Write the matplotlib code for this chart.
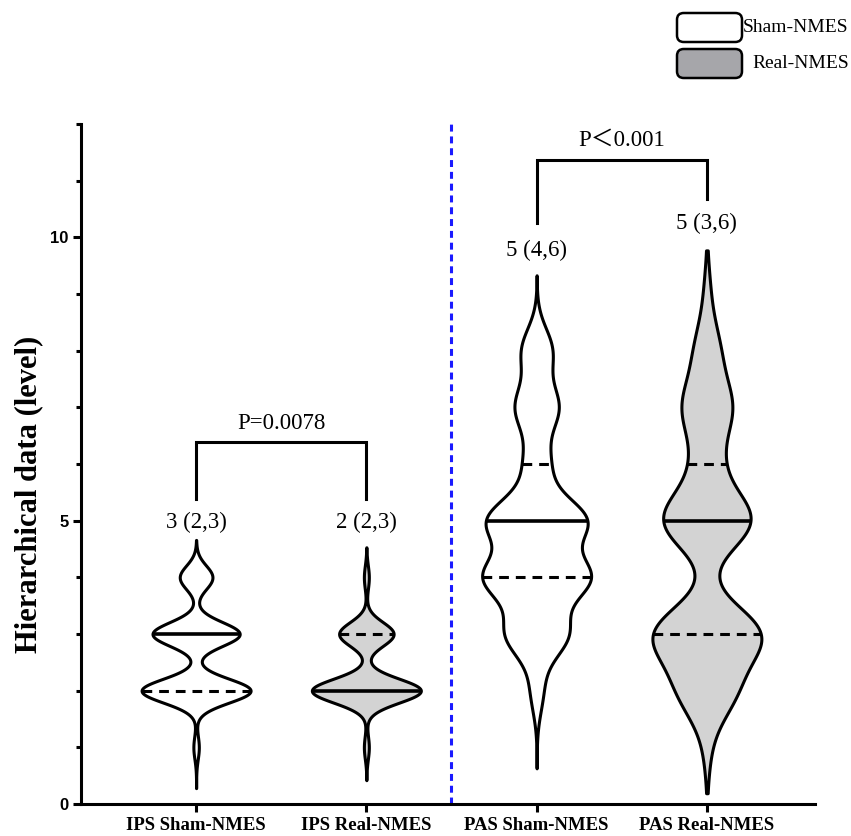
import numpy as np
import matplotlib
matplotlib.use('Agg')
import matplotlib.pyplot as plt
from matplotlib import mlab
from matplotlib.patches import FancyBboxPatch
from matplotlib.ticker import MultipleLocator

plt.rcParams['lines.scale_dashes'] = False

# ---------------- data ----------------
groups = ['IPS Sham-NMES', 'IPS Real-NMES', 'PAS Sham-NMES', 'PAS Real-NMES']
levels = [1, 2, 3, 4, 5, 6, 7, 8, 9]
ips_sham_counts = [1, 20, 16, 6, 0, 0, 0, 0, 0]
ips_real_counts = [1, 22, 11, 1, 0, 0, 0, 0, 0]
pas_sham_counts = [0, 2, 10, 17, 16, 4, 7, 5, 0]
pas_real_counts = [1, 9, 18, 0, 15, 4, 8, 4, 1]
summary_labels = ['3 (2,3)', '2 (2,3)', '5 (4,6)', '5 (3,6)']
p_labels = ['P=0.0078', 'P\uff1c0.001']

# ---------------- style ----------------
bandwidths = [0.21, 0.21, 0.40, 0.50]
extents = [(0.28, 4.66), (0.42, 4.53), (0.63, 9.33), (0.19, 9.77)]
fills = ['white', '#d3d3d3', 'white', '#d3d3d3']
vwidth = 0.64
LW = 2.2
serif = ['Liberation Serif', 'DejaVu Serif']

fig = plt.figure(figsize=(8.51, 8.36), dpi=100)
ax = fig.add_axes([81 / 851, 1 - 804 / 836, (815 - 81) / 851, 680 / 836])

positions = np.arange(1, len(groups) + 1)
all_counts = [ips_sham_counts, ips_real_counts, pas_sham_counts, pas_real_counts]
vpstats = []
datasets = []
for counts, bw, (lo, hi) in zip(all_counts, bandwidths, extents):
    data = np.repeat(levels, counts).astype(float)
    datasets.append(data)
    kde = mlab.GaussianKDE(data, bw_method=bw / np.std(data, ddof=1))
    coords = np.linspace(lo, hi, 800)
    vals = kde.evaluate(coords)
    vpstats.append(dict(coords=coords, vals=vals, mean=data.mean(),
                        median=np.median(data), min=lo, max=hi, quantiles=[]))

parts = ax.violin(vpstats, positions=positions, widths=vwidth,
                  showmeans=False, showextrema=False, showmedians=False)
for body, fc in zip(parts['bodies'], fills):
    body.set_alpha(1)
    body.set_facecolor(fc)
    body.set_edgecolor('black')
    body.set_linewidth(LW)
    body.set_zorder(2)

for pos, st, data in zip(positions, vpstats, datasets):
    q1, med, q3 = np.percentile(data, [25, 50, 75])
    vmax = st['vals'].max()

    def half(y):
        return np.interp(y, st['coords'], st['vals']) / vmax * vwidth / 2

    for q in (q1, q3):
        if q != med:
            ax.plot([pos - half(q), pos + half(q)], [q, q], color='black', lw=LW,
                    linestyle=(0, (7, 5)), solid_capstyle='butt', zorder=3)
    ax.plot([pos - half(med), pos + half(med)], [med, med], color='black',
            lw=2.6, solid_capstyle='butt', zorder=4)

# separator
ax.axvline(2.5, color='#1a1aff', lw=LW, linestyle=(0, (5, 3.5)), zorder=1)

# summary labels
label_y = [4.97, 4.97, 9.77, 10.25]
for pos, txt, y in zip(positions, summary_labels, label_y):
    ax.text(pos, y, txt, ha='center', va='center', fontsize=16.5, family=serif)

# brackets
def bracket(x1, x2, ytop, yl, yr, txt, ytxt):
    ax.plot([x1, x1, x2, x2], [yl, ytop, ytop, yr], color='black', lw=LW,
            solid_joinstyle='miter', zorder=3)
    ax.text((x1 + x2) / 2, ytxt, txt, ha='center', va='center', fontsize=16.5,
            family=['Liberation Serif', 'Noto Sans CJK SC', 'DejaVu Sans'])

bracket(1, 2, 6.38, 5.38, 5.38, p_labels[0], 6.72)
bracket(3, 4, 11.36, 10.25, 10.67, p_labels[1], 11.72)

# axes styling
ax.set_xlim(0.324, 4.635)
ax.set_ylim(0, 12)
for s in ('top', 'right'):
    ax.spines[s].set_visible(False)
for s in ('left', 'bottom'):
    ax.spines[s].set_linewidth(LW)
ax.set_xticks(positions)
ax.set_xticklabels(groups, fontsize=13.5, fontweight='bold', family=serif)
ax.set_yticks([0, 5, 10])
ax.yaxis.set_minor_locator(MultipleLocator(1))
ax.set_yticklabels(['0', '5', '10'], fontsize=12, fontweight='bold',
                   family=['Liberation Sans', 'DejaVu Sans'])
ax.tick_params(axis='x', length=5.8, width=LW, pad=3.5)
ax.tick_params(axis='y', which='major', length=5.8, width=LW, pad=3)
ax.tick_params(axis='y', which='minor', length=3.6, width=LW)
ax.set_ylabel('Hierarchical data (level)', fontsize=22, fontweight='bold', family=serif)
ax.yaxis.set_label_coords(-0.052, 0.455)

# legend (GraphPad style boxes)
W, H = 851, 836
leg_boxes = [(677, 13, 742, 42, 'white'), (677, 49, 742, 78, '#a6a6aa')]
leg_texts = [('Sham-NMES', 743, 28), ('Real-NMES', 752, 64)]
for (x0, y0, x1, y1, fc) in leg_boxes:
    fig.add_artist(FancyBboxPatch((x0 / W, 1 - y1 / H), (x1 - x0) / W, (y1 - y0) / H,
                                  boxstyle='round,pad=0,rounding_size=0.008',
                                  transform=fig.transFigure, facecolor=fc,
                                  edgecolor='black', linewidth=1.8))
for txt, x, y in leg_texts:
    fig.text(x / W, 1 - y / H, txt, ha='left', va='center', fontsize=14, family=serif)

fig.savefig('out.png', dpi=100)
